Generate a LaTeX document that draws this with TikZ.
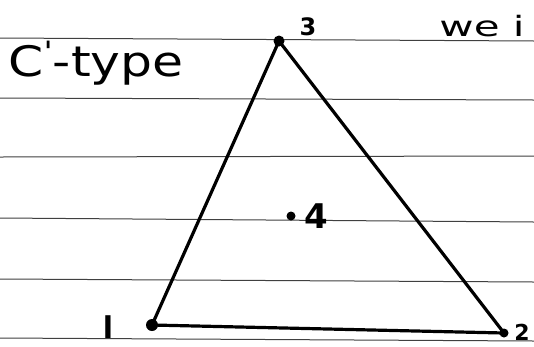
\documentclass[tikz,border=0pt]{standalone}
\usepackage{fontspec}
\setmainfont{DejaVu Sans}
\begin{document}
\begin{tikzpicture}[x=1pt,y=-1pt,
  rule/.style={draw=black!75,line width=1pt},
  edge/.style={draw=black,line width=3.2pt,line cap=round},
  vdot/.style={circle,fill=black,inner sep=0pt,minimum size=#1},
  lbl/.style={inner sep=0pt,font=\bfseries\fontsize{#1}{#1}\selectfont}]
\useasboundingbox[fill=white] (0,0) rectangle (534,346);
% ruled lines
\draw[rule] (0,38) -- (534,41);
\draw[rule] (0,98) -- (534,100);
\draw[rule] (0,157) -- (534,156);
\draw[rule] (0,218) -- (534,222);
\draw[rule] (0,279) -- (534,282);
\draw[rule] (0,338) -- (534,341);
% vertices
\node[vdot=11pt] (v3) at (279,41) {};
\node[vdot=12pt] (v1) at (152,325) {};
\node[vdot=9pt] (v2) at (504,333) {};
\node[vdot=9pt] (v4) at (291,216) {};
% triangle
\draw[edge] (v1.center) -- (v2.center) -- (v3.center) -- (v1.center);
% labels
\node[lbl=24] (t3) at (308,27) {3};
\node[lbl=34] (t4) at (316,216) {4};
\node[lbl=22] (t2) at (522,332) {2};
\node[lbl=30] (t1) at (108,327) {l};
\node[inner sep=0pt,font=\fontsize{42}{42}\selectfont] (title) at (96,63) {\scalebox{1.2}[1]{C\raisebox{0.35em}{\fontsize{28}{28}\selectfont\textquotesingle}-type}};
\node[inner sep=0pt,font=\fontsize{28}{28}\selectfont] (wei) at (482,26) {\scalebox{1.5}[1]{we i}};
\end{tikzpicture}
\end{document}
